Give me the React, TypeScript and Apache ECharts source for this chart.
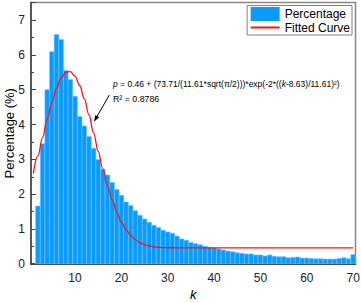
import React, { useEffect, useRef } from 'react';
import * as echarts from 'echarts';

// ---- data ----
const kValues = [
  2, 3, 4, 5, 6, 7, 8, 9, 10, 11, 12, 13, 14, 15, 16, 17, 18, 19, 20, 21,
  22, 23, 24, 25, 26, 27, 28, 29, 30, 31, 32, 33, 34, 35, 36, 37, 38, 39, 40, 41,
  42, 43, 44, 45, 46, 47, 48, 49, 50, 51, 52, 53, 54, 55, 56, 57, 58, 59, 60, 61,
  62, 63, 64, 65, 66, 67, 68, 69, 70,
];
const percentages = [
  1.66, 3.45, 5.0, 6.09, 6.58, 6.44, 5.55, 5.29, 4.81, 4.23, 3.96, 3.66, 3.32, 3.0, 2.72, 2.55, 2.34, 2.14, 1.97, 1.78,
  1.68, 1.53, 1.4, 1.29, 1.2, 1.11, 1.05, 0.97, 0.92, 0.88, 0.8, 0.72, 0.68, 0.62, 0.58, 0.55, 0.51, 0.48, 0.46, 0.43,
  0.4, 0.37, 0.35, 0.32, 0.31, 0.29, 0.29, 0.26, 0.26, 0.23, 0.26, 0.22, 0.21, 0.21, 0.18, 0.19, 0.2, 0.17, 0.17, 0.16,
  0.15, 0.15, 0.14, 0.14, 0.14, 0.16, 0.18, 0.15, 0.27,
];
const curveK = [
  1, 2, 3, 4, 5, 6, 7, 8, 9, 10, 11, 12, 13, 14, 15, 16, 17, 18, 19, 20,
  21, 22, 23, 24, 25, 26, 27, 28, 29, 30, 35, 40, 45, 50, 55, 60, 65, 70,
];
const curveP = [
  2.6, 3.1, 3.63, 4.15, 4.63, 5.03, 5.33, 5.5, 5.52, 5.39, 5.12, 4.74, 4.28, 3.76, 3.23, 2.72, 2.25, 1.84, 1.49, 1.2,
  0.98, 0.82, 0.7, 0.61, 0.555, 0.52, 0.494, 0.479, 0.471, 0.466, 0.46, 0.46, 0.46, 0.46, 0.46, 0.46, 0.46, 0.46,
];
const xTickLabels = [10, 20, 30, 40, 50, 60, 70];
const yTickLabels = [0, 1, 2, 3, 4, 5, 6, 7];

const FONT = '"Liberation Sans", Arial, Helvetica, sans-serif';

export default function App() {
  const ref = useRef<HTMLDivElement>(null);

  useEffect(() => {
    document.body.style.margin = '0';
    const chart = echarts.init(ref.current as HTMLDivElement, null, { renderer: 'svg' });

    const barData = kValues.map((k, i) => [k, percentages[i]]);
    const curveData = curveK.map((k, i) => [k, curveP[i]]);

    // arrow annotation geometry (pixels)
    const aStart = [109.3, 95];
    const aTip = [94, 121.7];
    const dx = aTip[0] - aStart[0];
    const dy = aTip[1] - aStart[1];
    const len = Math.sqrt(dx * dx + dy * dy);
    const ux = dx / len;
    const uy = dy / len;
    const headLen = 6.5;
    const headW = 2.3;
    const bx = aTip[0] - ux * headLen;
    const by = aTip[1] - uy * headLen;

    chart.setOption({
      animation: false,
      backgroundColor: '#ffffff',
      grid: {
        left: 31,
        right: 5.5,
        top: 2.5,
        bottom: 39,
        containLabel: false,
        outerBoundsMode: 'none',
        show: true,
        borderColor: '#888888',
        borderWidth: 1.5,
        backgroundColor: 'transparent',
      },
      legend: {
        orient: 'vertical',
        right: 9,
        top: 5.5,
        itemWidth: 29,
        itemHeight: 14,
        itemGap: 0.5,
        padding: [1.5, 2, 1.5, 2.5],
        borderColor: '#808080',
        borderWidth: 1,
        backgroundColor: '#ffffff',
        textStyle: { fontSize: 12, fontFamily: FONT, color: '#000' },
        data: [
          { name: 'Percentage', icon: 'rect' },
          { name: 'Fitted Curve', itemStyle: { opacity: 0 } },
        ],
      },
      xAxis: {
        type: 'value',
        min: 0.5,
        max: 70.5,
        name: 'k',
        nameLocation: 'middle',
        nameGap: 24,
        nameMoveOverlap: false,
        nameTextStyle: { fontSize: 13, fontStyle: 'italic', fontFamily: FONT, color: '#000' },
        axisLine: { show: true, lineStyle: { color: '#333', width: 1.6 } },
        axisTick: { show: true, inside: true, length: 5, customValues: xTickLabels, lineStyle: { color: '#333' } },
        axisLabel: {
          customValues: xTickLabels,
          margin: 8,
          fontSize: 12,
          fontFamily: FONT,
          color: '#222',
        },
        splitLine: { show: false },
      },
      yAxis: {
        type: 'value',
        min: 0,
        max: 7.5,
        interval: 1,
        name: 'Percentage (%)',
        nameLocation: 'middle',
        nameGap: 15,
        nameMoveOverlap: false,
        nameTextStyle: { fontSize: 13, fontFamily: FONT, color: '#000' },
        axisLine: { show: true, lineStyle: { color: '#444', width: 1.6 } },
        axisTick: { show: true, inside: true, length: 5, lineStyle: { color: '#444' } },
        minorTick: { show: true, splitNumber: 2, length: 3, lineStyle: { color: '#444' } },
        axisLabel: {
          margin: 6,
          fontSize: 12,
          fontFamily: FONT,
          color: '#222',
          formatter: (v: number) => (yTickLabels.indexOf(v) >= 0 ? String(v) : ''),
        },
        splitLine: { show: false },
      },
      series: [
        {
          name: 'Percentage',
          type: 'custom',
          clip: true,
          encode: { x: 0, y: 1 },
          itemStyle: { color: '#0a9bff' },
          data: barData,
          renderItem: (params: any, api: any) => {
            const k = api.value(0);
            const v = api.value(1);
            const p0 = api.coord([k - 0.5, v]);
            const p1 = api.coord([k + 0.5, 0]);
            return {
              type: 'rect',
              shape: { x: p0[0], y: p0[1], width: p1[0] - p0[0], height: p1[1] - p0[1] },
              style: { fill: '#0a9bff', stroke: '#74c4ff', lineWidth: 0.6 },
            };
          },
          z: 2,
        },
        {
          name: 'Fitted Curve',
          type: 'line',
          data: curveData,
          smooth: 0.4,
          smoothMonotone: 'x',
          symbol: 'none',
          showSymbol: false,
          lineStyle: { color: '#ff1010', width: 1.3 },
          itemStyle: { color: '#ff1010' },
          z: 3,
        },
      ],
      graphic: [
        {
          type: 'text',
          x: 113,
          y: 83.5,
          z: 10,
          style: {
            text: '{i|p} = 0.46 + (73.71/(11.61*sqrt(π/2)))*exp(-2*(({i|k}-8.63)/11.61)²)',
            fontSize: 8.5,
            fontFamily: FONT,
            fill: '#000',
            verticalAlign: 'middle',
            rich: {
              i: { fontStyle: 'italic', fontSize: 8.5, fontFamily: FONT, fill: '#000' },
            },
          },
        },
        {
          type: 'text',
          x: 113,
          y: 99.3,
          z: 10,
          style: {
            text: 'R² = 0.8786',
            fontSize: 8.8,
            fontFamily: FONT,
            fill: '#000',
            verticalAlign: 'middle',
          },
        },
        {
          type: 'line',
          z: 10,
          shape: { x1: aStart[0], y1: aStart[1], x2: bx, y2: by },
          style: { stroke: '#000', lineWidth: 1 },
        },
        {
          type: 'polygon',
          z: 10,
          shape: {
            points: [
              [aTip[0], aTip[1]],
              [bx - uy * headW, by + ux * headW],
              [bx + uy * headW, by - ux * headW],
            ],
          },
          style: { fill: '#000' },
        },
      ],
    });

    return () => chart.dispose();
  }, []);

  return <div ref={ref} style={{ width: 361, height: 303 }} />;
}
